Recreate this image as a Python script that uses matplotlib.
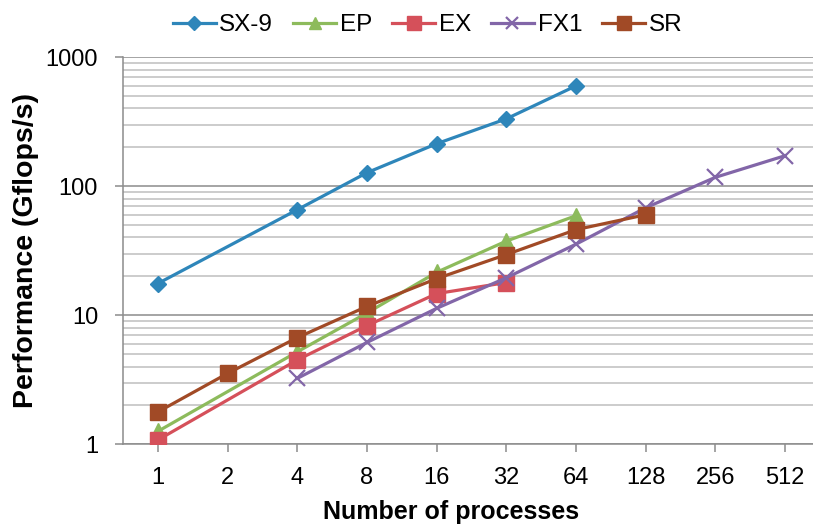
import numpy as np
import matplotlib
matplotlib.use("Agg")
import matplotlib.pyplot as plt
from matplotlib.ticker import FixedLocator, NullFormatter, LogLocator

plt.rcParams['font.family'] = ['Liberation Sans', 'DejaVu Sans']

categories = ['1', '2', '4', '8', '16', '32', '64', '128', '256', '512']

sx9_idx = [0, 2, 3, 4, 5, 6]
sx9_val = [17.6, 65.6, 127, 213, 332, 598]

ep_idx = [0, 2, 3, 4, 5, 6]
ep_val = [1.26, 5.2, 10.4, 21.5, 37.5, 59]

ex_idx = [0, 2, 3, 4, 5]
ex_val = [1.08, 4.5, 8.3, 14.7, 17.9]

fx1_idx = [2, 3, 4, 5, 6, 7, 8, 9]
fx1_val = [3.24, 6.15, 11.3, 19.5, 35.5, 68, 117, 172]

sr_idx = [0, 1, 2, 3, 4, 5, 6, 7]
sr_val = [1.78, 3.54, 6.7, 11.7, 19.2, 29.5, 46, 60]

fig = plt.figure(figsize=(8.13, 5.32), dpi=100)
ax = fig.add_axes([123/813, 1-444.3/532, 697/813, (444.3-57)/532])

lw = 2.3
ax.plot(sx9_idx, sx9_val, color='#2E86BA', lw=lw, marker='D', ms=8.5, label='SX-9', zorder=5)
ax.plot(ep_idx, ep_val, color='#8DBB5C', lw=lw, marker='^', ms=11, label='EP', zorder=4)
ax.plot(ex_idx, ex_val, color='#D5505A', lw=lw, marker='s', ms=11.5, label='EX', zorder=5)
ax.plot(fx1_idx, fx1_val, color='#8266A8', lw=lw, marker='x', ms=11, mew=1.6, label='FX1', zorder=6)
ax.plot(sr_idx, sr_val, color='#A14A26', lw=lw, marker='s', ms=11.5, label='SR', zorder=7)

ax.set_yscale('log')
ax.set_ylim(1, 1000)
ax.set_xlim(-0.5, 9.5)
ax.set_xticks(range(len(categories)))
ax.set_xticklabels(categories)
ax.yaxis.set_major_locator(FixedLocator([1, 10, 100, 1000]))
ax.set_yticklabels(['1', '10', '100', '1000'])
ax.yaxis.set_minor_locator(LogLocator(base=10, subs=np.arange(2, 10)))
ax.yaxis.set_minor_formatter(NullFormatter())

ax.grid(True, which='major', axis='y', color='#8C8C8C', lw=1.1, zorder=0)
ax.grid(True, which='minor', axis='y', color='#BEBEBE', lw=1.1, zorder=0)
ax.set_axisbelow(True)

for s in ['top', 'right']:
    ax.spines[s].set_visible(False)
for s in ['left', 'bottom']:
    ax.spines[s].set_color('#8C8C8C')
    ax.spines[s].set_linewidth(1.1)

ax.tick_params(axis='x', which='major', direction='out', length=6, width=1.1, color='#8C8C8C',
               labelsize=17, pad=10)
ax.tick_params(axis='y', which='major', direction='out', length=6, width=1.1, color='#8C8C8C',
               labelsize=17, pad=12)
ax.tick_params(axis='y', which='minor', length=0)

ax.set_xlabel('Number of processes', fontsize=18, fontweight='bold')
ax.set_ylabel('Performance (Gflops/s)', fontsize=20.5, fontweight='bold')
ax.xaxis.set_label_coords(0.4706, -0.144)
ax.yaxis.set_label_coords(-0.121, 0.5)

leg = fig.legend(loc='center', bbox_to_anchor=(0.526, 0.953), ncol=5, frameon=False,
                 fontsize=17.5, handlelength=1.75, handletextpad=0.16, columnspacing=0.83,
                 markerscale=0.85)

fig.savefig('out.png', dpi=100)
